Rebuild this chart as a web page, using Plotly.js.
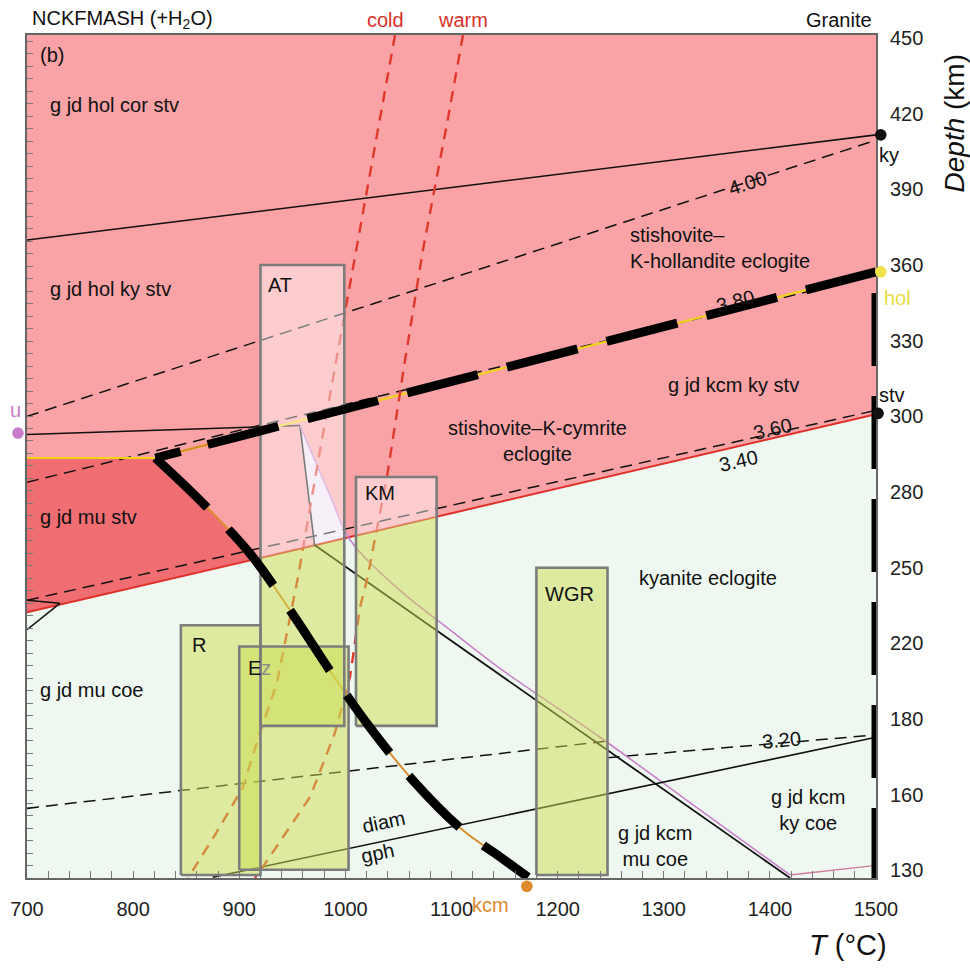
<!DOCTYPE html>
<html>
<head>
<meta charset="utf-8">
<script src="https://cdn.plot.ly/plotly-3.0.1.min.js"></script>
<style>html,body{margin:0;padding:0;background:#fff}</style>
</head>
<body>
<div id="chart" style="width:970px;height:968px"></div>
<script>
// ---- axes: temperature (°C) and pressure (GPa) labelled as depth (km) ----
const tempTicks = [700, 800, 900, 1000, 1100, 1200, 1300, 1400, 1500];
const pressureTicks = [4, 5, 6, 7, 8, 9, 10, 11, 12, 13, 14, 15];
const depthLabels = ['130', '160', '180', '220', '250', '280', '300', '330', '360', '390', '420', '450'];

// ---- phase fields ----
const stvBoundaryT = [700, 1500];          // coesite / stishovite boundary
const stvBoundaryP = [7.41, 10.03];
const muStvT = [700, 821, 863, 910, 913, 700];
const muStvP = [9.45, 9.45, 8.89, 8.19, 8.12, 7.41];
const kcmMuStvT = [957.2, 971, 1002, 985.5];
const kcmMuStvP = [9.88, 8.30, 8.42, 8.96];

// ---- reaction lines ----
const kyT = [700, 1500], kyP = [12.33, 13.72];
const uT = [700, 957.2], uP = [9.76, 9.88];
const muOutT = [957.2, 971], muOutP = [9.88, 8.30];
const kcmInT = [971, 1419], kcmInP = [8.30, 3.9];
const magT = [957.2, 985.5, 1004.4, 1051.5, 1098.6, 1145.7, 1239.9, 1334.2, 1419];
const magP = [9.88, 8.96, 8.37, 7.70, 7.18, 6.67, 5.76, 4.80, 3.94];
const magHiT = [1419, 1496], magHiP = [3.94, 4.06];
const diamT = [875, 1500], diamP = [3.91, 5.76];
const leftAT = [700, 731], leftAP = [7.57, 7.53];
const leftBT = [700, 731], leftBP = [7.18, 7.53];
const holFlatT = [700, 821], holFlatP = [9.45, 9.45];
const holT = [821, 1500], holP = [9.45, 11.91];
const holLowT = [821, 920], holLowP = [9.45, 9.81];
const kcmT = [821, 863, 910, 949.7, 988.3, 1023.2, 1063.7, 1110.8, 1145.7, 1172.1];
const kcmP = [9.45, 8.89, 8.19, 7.40, 6.58, 5.89, 5.19, 4.53, 4.18, 3.91];
const edgeT = [1500, 1500], edgeP = [11.63, 3.9];

// ---- density isopleths (g/cm³) ----
const iso400T = [700, 1500], iso400P = [10.0, 13.65];
const iso380T = [700, 1500], iso380P = [9.13, 11.87];
const iso360T = [700, 1500], iso360P = [7.57, 10.08];
const iso320aT = [700, 1247], iso320aP = [4.82, 5.71];
const iso320bT = [1247, 1500], iso320bP = [5.49, 5.79];

// ---- subduction geotherms ----
const coldT = [1046.8, 1032.6, 1010.0, 996.8, 976.1, 955.4, 935.6, 919.5, 903.5, 877.2, 851.7];
const coldP = [15.04, 13.94, 12.20, 11.18, 9.55, 7.88, 6.48, 5.82, 5.10, 4.47, 3.9];
const warmT = [1110.8, 1096.7, 1073.1, 1056.2, 1039.2, 1020.4, 1013.8, 1004.4, 990.2, 966.7, 922.4, 914.8];
const warmP = [15.04, 13.94, 12.20, 10.74, 9.2, 7.84, 7.48, 6.56, 5.82, 4.97, 4.05, 3.9];

// ---- UHP terrane P–T boxes ----
const boxNames = ['R', 'E<span style="color:#8c8c8c">z</span>', 'AT', 'KM', 'WGR'];
const boxTmin = [845, 900, 920, 1010, 1180];
const boxTmax = [920, 1003, 999, 1086, 1247];
const boxPmin = [3.94, 4.01, 5.91, 5.91, 3.94];
const boxPmax = [7.24, 6.96, 12.0, 9.2, 8.0];

// ---- invariant / end points ----
const ptNames = ['u', 'ky', 'hol', 'stv', 'kcm'];
const ptT = [691.5, 1504.5, 1504.5, 1502, 1171];
const ptP = [9.78, 13.72, 11.91, 10.04, 3.79];
const ptColors = ['#C77BC9', '#111111', '#F0E24A', '#111111', '#DE8A2C'];

const FONT = 'Liberation Sans, Arial, Helvetica, sans-serif';
const PMAX = 15.04, PMIN = 3.9;
const TMIN = 700, TMAX = 1500;

function boundaryAt(t) {
  return stvBoundaryP[0] + (t - stvBoundaryT[0]) * (stvBoundaryP[1] - stvBoundaryP[0]) / (stvBoundaryT[1] - stvBoundaryT[0]);
}
// split a polygon by the coesite/stishovite boundary
function clipPoly(poly, above) {
  const f = q => q[1] - boundaryAt(q[0]);
  const inside = q => above ? f(q) >= 0 : f(q) <= 0;
  const out = [];
  for (let i = 0; i < poly.length; i++) {
    const a = poly[i], b = poly[(i + 1) % poly.length];
    const ia = inside(a), ib = inside(b);
    if (ia) out.push(a);
    if (ia !== ib) {
      const s = f(a) / (f(a) - f(b));
      out.push([a[0] + s * (b[0] - a[0]), a[1] + s * (b[1] - a[1])]);
    }
  }
  return out;
}

const traces = [];
function fillPoly(xs, ys, color) {
  traces.push({x: xs, y: ys, mode: 'lines', fill: 'toself', fillcolor: color,
    line: {width: 0, color: color}, hoverinfo: 'skip', showlegend: false});
}
function line(xs, ys, color, width, dash, extra) {
  traces.push(Object.assign({x: xs, y: ys, mode: 'lines',
    line: {color: color, width: width, dash: dash || 'solid'},
    hoverinfo: 'skip', showlegend: false}, extra || {}));
}

// stishovite field (above boundary)
fillPoly([stvBoundaryT[0], stvBoundaryT[1], stvBoundaryT[1], stvBoundaryT[0]],
         [stvBoundaryP[0], stvBoundaryP[1], PMAX + 0.3, PMAX + 0.3], '#F9A3A7');
fillPoly(muStvT, muStvP, '#F06D71');
fillPoly(kcmMuStvT, kcmMuStvP, '#EEE2F2');

// thin lines
const ISO = '12px,7px';
line(kyT, kyP, '#111', 1.6);
line(iso400T, iso400P, '#111', 1.5, ISO);
line(iso380T, iso380P, '#111', 1.5, ISO);
line(stvBoundaryT, stvBoundaryP, '#E0302A', 2);
line(iso360T, iso360P, '#111', 1.5, ISO);
line(iso320aT, iso320aP, '#111', 1.5, ISO);
line(iso320bT, iso320bP, '#111', 1.5, ISO);
line(uT, uP, '#111', 1.6);
line(muOutT, muOutP, '#111', 1.6);
traces.push({x: magT, y: magP, mode: 'lines', line: {color: '#C880C8', width: 1.6, shape: 'spline'},
  hoverinfo: 'skip', showlegend: false});
line(kcmInT, kcmInP, '#111', 1.8);
line(magHiT, magHiP, '#D27A9E', 1.4);
line(diamT, diamP, '#111', 1.6);
line(leftAT, leftAP, '#111', 1.5);
line(leftBT, leftBP, '#111', 1.5);
line(holFlatT, holFlatP, '#F0D21A', 2.2);
line(holT, holP, '#F0D21A', 2.2);
line(holLowT, holLowP, '#D98C2B', 2.2);
traces.push({x: kcmT, y: kcmP, mode: 'lines', line: {color: '#D98C2B', width: 2, shape: 'spline'},
  hoverinfo: 'skip', showlegend: false});
line(coldT, coldP, '#E0392B', 2.4, '11px,8px');
line(warmT, warmP, '#E0392B', 2.4, '11px,8px');

// translucent P–T boxes
for (let i = 0; i < boxNames.length; i++) {
  const rect = [[boxTmin[i], boxPmin[i]], [boxTmax[i], boxPmin[i]], [boxTmax[i], boxPmax[i]], [boxTmin[i], boxPmax[i]]];
  const up = clipPoly(rect, true), lo = clipPoly(rect, false);
  if (up.length) fillPoly(up.map(q => q[0]), up.map(q => q[1]), 'rgba(255,255,255,0.45)');
  if (lo.length) fillPoly(lo.map(q => q[0]), lo.map(q => q[1]), 'rgba(204,220,80,0.5)');
}
for (let i = 0; i < boxNames.length; i++) {
  line([boxTmin[i], boxTmax[i], boxTmax[i], boxTmin[i], boxTmin[i]],
       [boxPmin[i], boxPmin[i], boxPmax[i], boxPmax[i], boxPmin[i]], '#7c7c7c', 2.6);
}

// thick dashed boundaries
const holDash = '26px,28px' + ',73px,30px'.repeat(8);
line(holT, holP, '#000', 9, holDash);
traces.push({x: kcmT, y: kcmP, mode: 'lines', line: {color: '#000', width: 9, dash: '72px,30px', shape: 'spline'},
  hoverinfo: 'skip', showlegend: false});
line(edgeT, edgeP, '#000', 9, '73px,30px', {cliponaxis: false});

// carrier for the left minor-tick axis
traces.push({x: [700], y: [PMIN], yaxis: 'y2', mode: 'markers', marker: {opacity: 0},
  hoverinfo: 'skip', showlegend: false});

// end-point dots sit just outside the frame, so they are drawn as unclipped shapes
const shapes = [];
const rx = 5.8 / 849, ry = 5.8 / 843;
for (let i = 0; i < ptNames.length; i++) {
  const xp = (ptT[i] - TMIN) / (TMAX - TMIN);
  const yp = (ptP[i] - PMIN) / (PMAX - PMIN);
  shapes.push({type: 'circle', xref: 'paper', yref: 'paper', layer: 'above',
    x0: xp - rx, x1: xp + rx, y0: yp - ry, y1: yp + ry,
    fillcolor: ptColors[i], line: {width: 0}});
}

// ---- labels ----
const A = [];
function lab(x, y, text, opt) {
  A.push(Object.assign({x: x, y: y, xref: 'x', yref: 'y', text: text, showarrow: false,
    font: {family: FONT, size: 20, color: '#111'}, xanchor: 'left', yanchor: 'middle'}, opt || {}));
}
function plab(x, y, text, opt) { lab(x, y, text, Object.assign({xref: 'paper', yref: 'paper'}, opt || {})); }

lab(710.4, 14.77, '(b)');
lab(719.8, 14.11, 'g jd hol cor stv');
lab(719.8, 11.69, 'g jd hol ky stv');
lab(1266.3, 12.22, 'stishovite–<br>K-hollandite eclogite', {align: 'left'});
lab(1302, 10.41, 'g jd kcm ky stv');
lab(1180.6, 9.67, 'stishovite–K-cymrite<br>eclogite', {align: 'center', xanchor: 'center'});
lab(710, 8.67, 'g jd mu stv');
lab(1274.8, 7.86, 'kyanite eclogite');
lab(710, 6.38, 'g jd mu coe');
lab(1436, 4.80, 'g jd kcm<br>ky coe', {align: 'center', xanchor: 'center'});
lab(1291.8, 4.32, 'g jd kcm<br>mu coe', {align: 'center', xanchor: 'center'});
lab(1035.5, 4.64, 'diam', {xanchor: 'center', textangle: -12});
lab(1030.7, 4.23, 'gph', {xanchor: 'center', textangle: -12});
lab(1411.4, 5.73, '3.20', {xanchor: 'center', textangle: -5});
lab(1370, 9.41, '3.40', {xanchor: 'center', textangle: -13});
lab(1402, 9.84, '3.60', {xanchor: 'center', textangle: -13});
lab(1368, 11.52, '3.80', {xanchor: 'center', textangle: -15});
lab(1379, 13.09, '4.00', {xanchor: 'center', textangle: -18});

// box names
const boxLabelT = [853.6, 906.5, 925.2, 1016.6, 1211.6];
const boxLabelP = [6.98, 6.67, 11.73, 8.99, 7.65];
for (let i = 0; i < boxNames.length; i++) {
  lab(boxLabelT[i], boxLabelP[i], boxNames[i], i === 4 ? {xanchor: 'center'} : {});
}

// end-point names
plab(-0.0141, 0.5552, ptNames[0], {xanchor: 'center', font: {family: FONT, size: 20, color: '#C77BC9'}});
plab(1.0012, 0.8577, ptNames[1]);
plab(1.007, 0.688, ptNames[2], {font: {family: FONT, size: 20, color: '#E8DC3C'}});
plab(1.0012, 0.573, ptNames[3]);
plab(0.5465, -0.032, ptNames[4], {xanchor: 'center', font: {family: FONT, size: 20, color: '#DE8A2C'}});

plab(0.4228, 1.0178, 'cold', {xanchor: 'center', font: {family: FONT, size: 20, color: '#D8302A'}});
plab(0.5135, 1.0178, 'warm', {xanchor: 'center', font: {family: FONT, size: 20, color: '#D8302A'}});
plab(0.9976, 1.0178, 'Granite', {xanchor: 'right'});
plab(0.0035, 1.0178, 'NCKFMASH (+H<sub>2</sub>O)');

// axis titles
plab(0.967, -0.0795, '<i>T</i> (°C)', {xanchor: 'center', font: {family: FONT, size: 29, color: '#111'}});
plab(1.093, 0.895, '<i>Depth</i> (km)', {xanchor: 'center', textangle: -90, font: {family: FONT, size: 28, color: '#111'}});

const layout = {
  width: 970, height: 968,
  margin: {l: 27, r: 94, t: 35, b: 90},
  paper_bgcolor: '#ffffff',
  plot_bgcolor: '#EEF8F1',
  showlegend: false,
  font: {family: FONT, size: 20, color: '#111'},
  xaxis: {
    range: [TMIN, TMAX], tickvals: tempTicks, ticks: 'inside', ticklen: 7, tickcolor: '#777', tickwidth: 1,
    minor: {dtick: 20, ticks: 'inside', ticklen: 7, tickcolor: '#777'},
    showline: true, linecolor: '#666', linewidth: 2, mirror: true,
    showgrid: false, zeroline: false, ticklabelstandoff: 12,
    tickfont: {family: FONT, size: 20, color: '#222'}
  },
  yaxis: {
    range: [PMIN, PMAX], side: 'right', tickvals: pressureTicks, ticktext: depthLabels, ticks: '',
    showline: true, linecolor: '#666', linewidth: 2, mirror: true,
    showgrid: false, zeroline: false, ticklabelstandoff: 8,
    tickfont: {family: FONT, size: 20, color: '#222'}
  },
  yaxis2: {
    range: [PMIN, PMAX], overlaying: 'y', side: 'left', showticklabels: false,
    ticks: 'inside', tick0: PMIN, dtick: 0.165, ticklen: 6, tickcolor: '#777',
    showgrid: false, zeroline: false, showline: false
  },
  shapes: shapes,
  annotations: A
};

Plotly.newPlot('chart', traces, layout, {staticPlot: true, displayModeBar: false});
</script>
</body>
</html>
